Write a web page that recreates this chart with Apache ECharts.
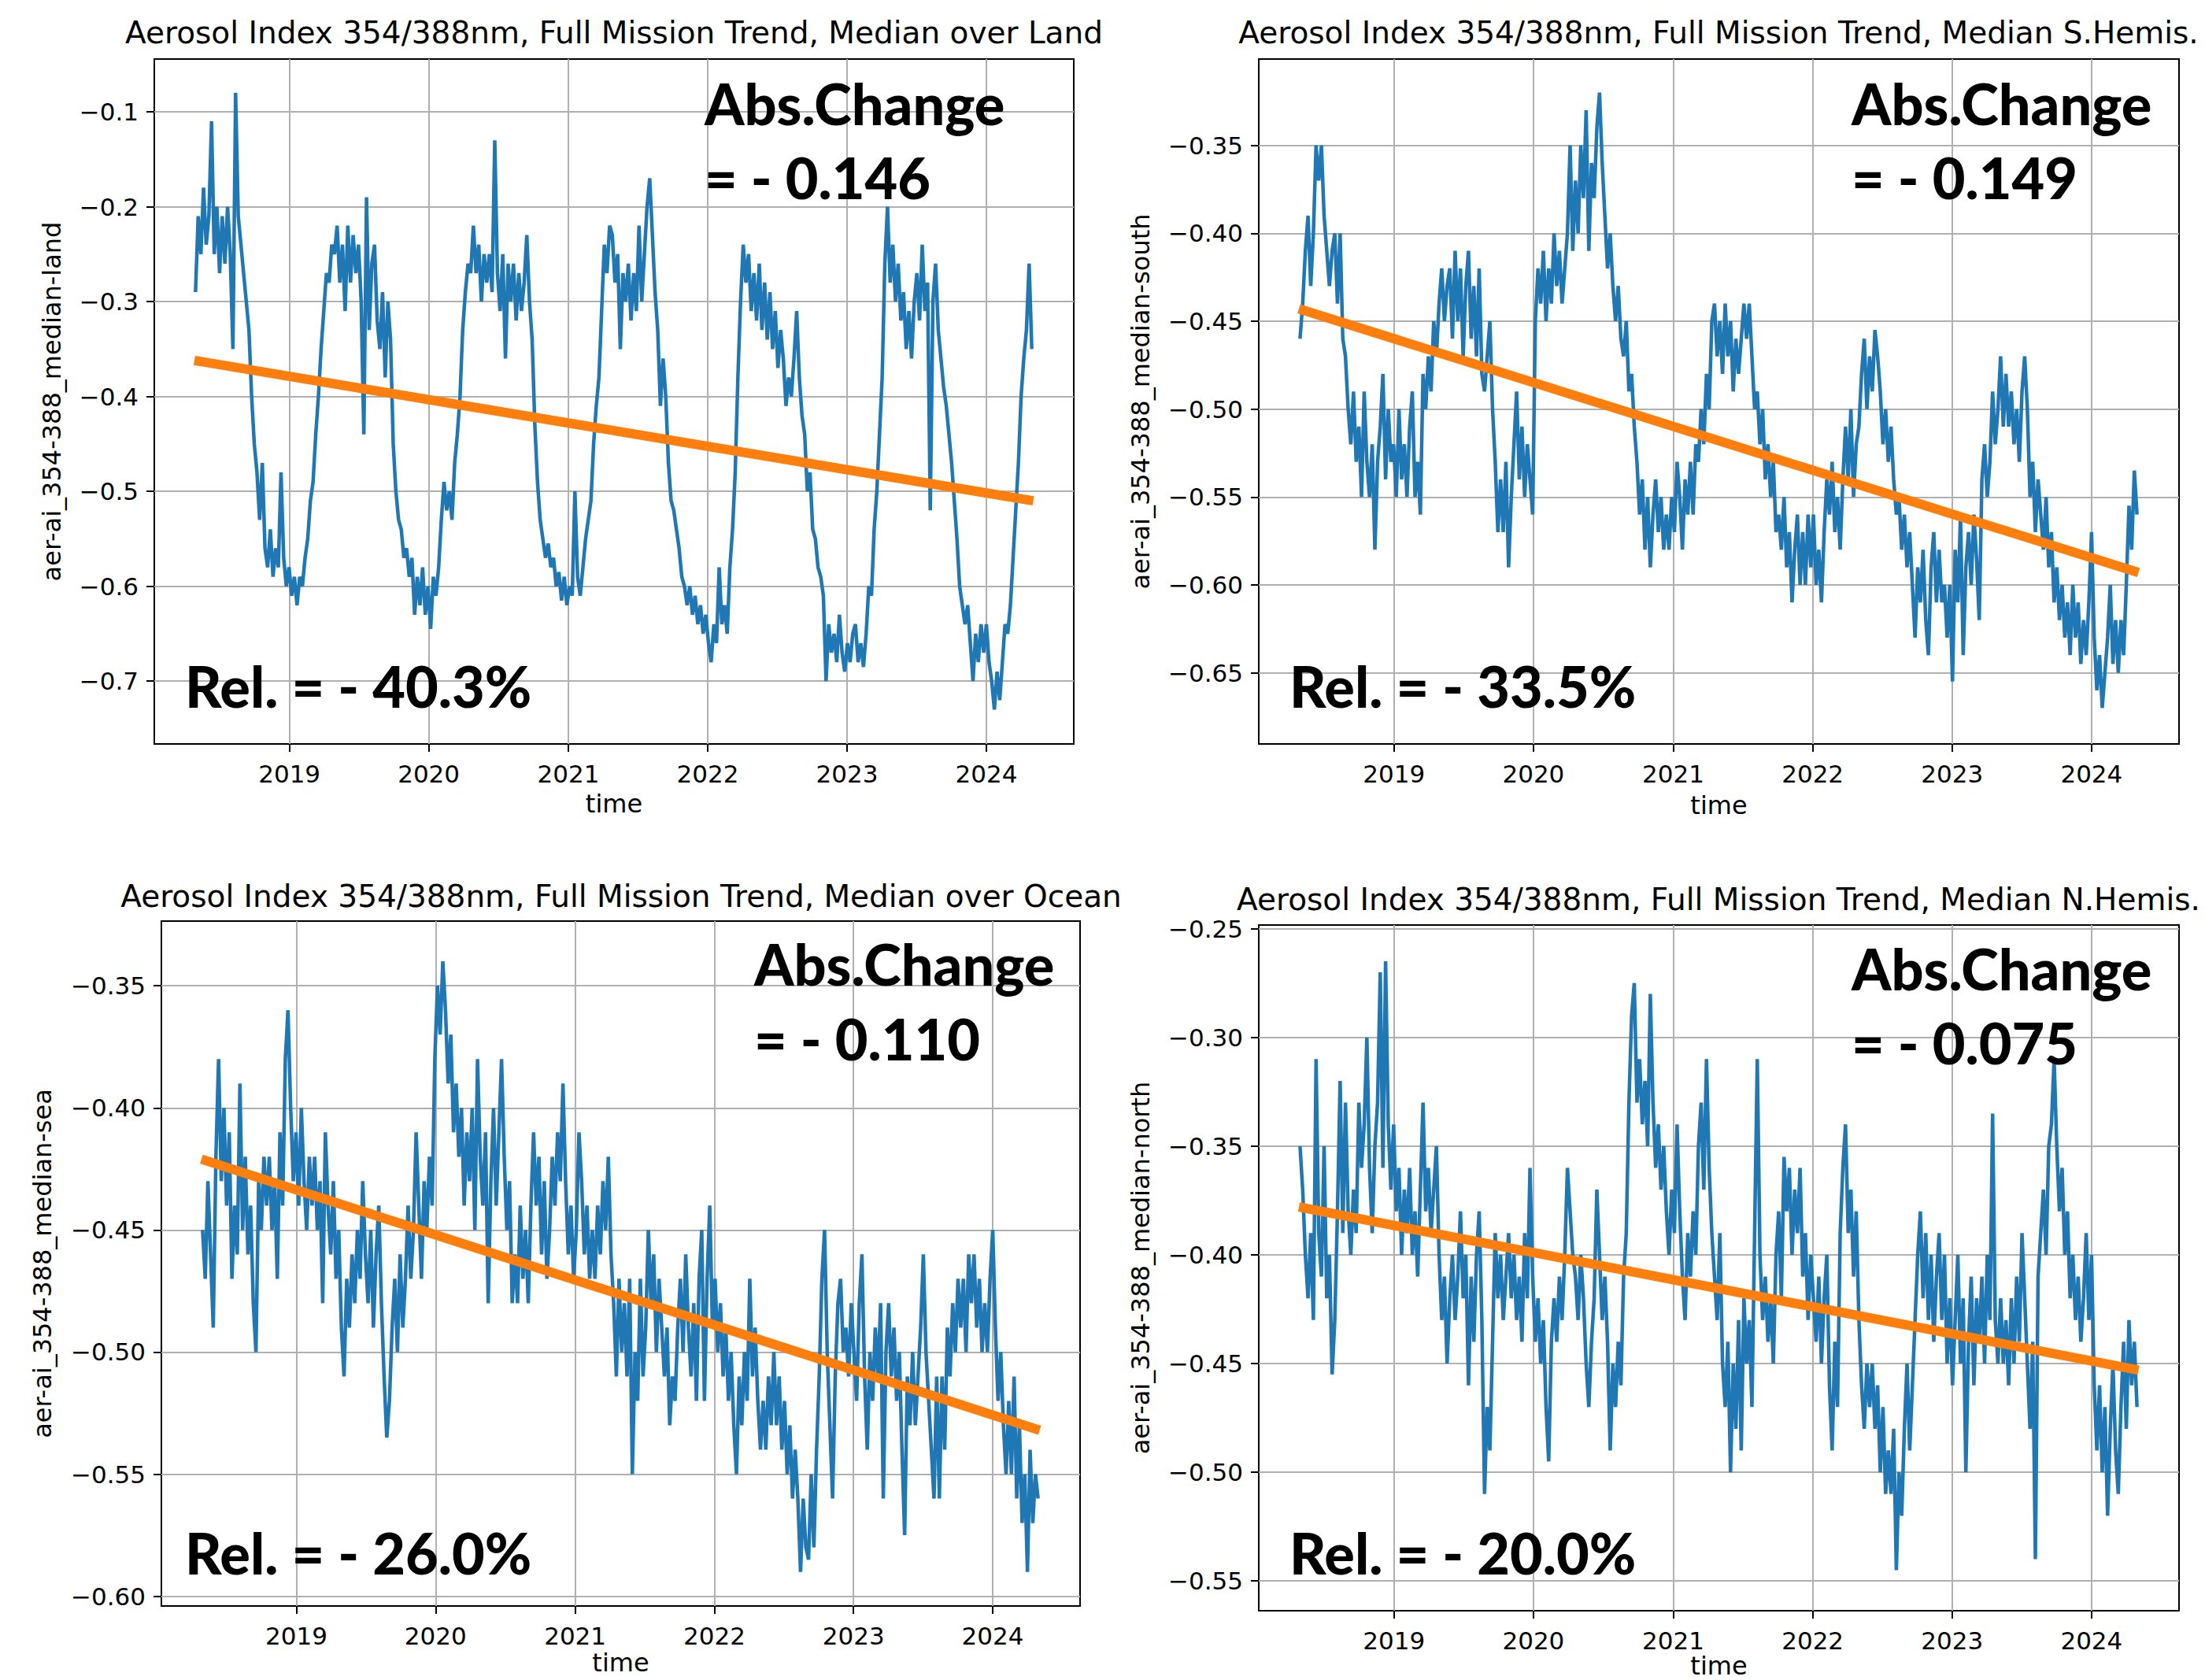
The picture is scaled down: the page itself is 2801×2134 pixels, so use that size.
<!DOCTYPE html>
<html><head><meta charset="utf-8">
<script src="https://cdn.jsdelivr.net/npm/echarts@6/dist/echarts.min.js"></script>
<style>html,body{margin:0;padding:0;background:#fff}#c{width:2801px;height:2134px}</style>
</head><body><div id="c"></div>
<script>
// ---- data (weekly samples, first sample 2018-04-30) ----
const seriesStart = '2018-04-30';
const stepDays = 7;

const landValues = [
-0.29,-0.21,-0.25,-0.18,-0.24,-0.21,-0.11,-0.25,-0.20,-0.27,-0.21,-0.26,-0.20,-0.25,-0.35,-0.08,-0.21,-0.24,-0.27,-0.30,
-0.33,-0.40,-0.45,-0.48,-0.53,-0.47,-0.56,-0.58,-0.54,-0.59,-0.56,-0.58,-0.48,-0.57,-0.60,-0.58,-0.61,-0.59,-0.62,-0.59,
-0.60,-0.57,-0.55,-0.51,-0.49,-0.44,-0.40,-0.35,-0.31,-0.27,-0.28,-0.24,
-0.25,-0.22,-0.28,-0.24,-0.31,-0.22,-0.28,-0.23,-0.27,-0.24,-0.30,-0.44,-0.19,-0.33,-0.26,-0.24,-0.32,-0.35,-0.29,-0.38,
-0.30,-0.34,-0.45,-0.50,-0.53,-0.54,-0.57,-0.56,-0.59,-0.57,-0.63,-0.59,-0.62,-0.58,-0.63,-0.60,-0.645,-0.59,-0.61,-0.58,
-0.53,-0.49,-0.52,-0.50,-0.53,-0.47,-0.44,-0.40,-0.33,-0.29,-0.26,-0.27,
-0.22,-0.27,-0.24,-0.30,-0.25,-0.28,-0.25,-0.29,-0.13,-0.27,-0.31,-0.25,-0.36,-0.26,-0.30,-0.26,-0.32,-0.27,-0.31,-0.28,
-0.23,-0.30,-0.34,-0.43,-0.49,-0.53,-0.55,-0.57,-0.555,-0.58,-0.57,-0.60,-0.585,-0.615,-0.59,-0.62,-0.60,-0.61,-0.50,-0.59,
-0.61,-0.58,-0.55,-0.53,-0.51,-0.45,-0.41,-0.38,-0.31,-0.24,-0.27,-0.22,
-0.23,-0.28,-0.25,-0.35,-0.27,-0.30,-0.26,-0.32,-0.27,-0.31,-0.22,-0.30,-0.25,-0.20,-0.17,-0.23,-0.29,-0.33,-0.41,-0.36,
-0.40,-0.47,-0.51,-0.52,-0.54,-0.56,-0.59,-0.60,-0.62,-0.60,-0.63,-0.61,-0.64,-0.62,-0.65,-0.63,-0.66,-0.68,-0.64,-0.66,
-0.58,-0.64,-0.62,-0.65,-0.58,-0.54,-0.48,-0.38,-0.30,-0.24,-0.28,-0.25,
-0.31,-0.27,-0.32,-0.26,-0.33,-0.28,-0.34,-0.29,-0.35,-0.31,-0.37,-0.33,-0.36,-0.41,-0.38,-0.40,-0.36,-0.31,-0.38,-0.42,
-0.44,-0.50,-0.48,-0.54,-0.55,-0.58,-0.59,-0.61,-0.70,-0.64,-0.67,-0.65,-0.68,-0.63,-0.67,-0.69,-0.66,-0.68,-0.65,-0.64,
-0.68,-0.66,-0.685,-0.65,-0.60,-0.61,-0.54,-0.50,-0.44,-0.38,-0.26,-0.20,
-0.28,-0.24,-0.30,-0.26,-0.32,-0.29,-0.35,-0.31,-0.36,-0.30,-0.27,-0.32,-0.24,-0.31,-0.28,-0.52,-0.30,-0.26,-0.33,-0.36,
-0.39,-0.41,-0.44,-0.47,-0.51,-0.55,-0.60,-0.62,-0.64,-0.62,-0.66,-0.70,-0.65,-0.68,-0.64,-0.67,-0.64,-0.68,-0.70,-0.73,
-0.69,-0.72,-0.68,-0.64,-0.65,-0.62,-0.57,-0.52,-0.47,-0.40,-0.36,-0.33,-0.26,-0.35
];

const southValues = [
-0.46,-0.44,-0.41,-0.39,-0.43,-0.40,-0.35,-0.37,-0.35,-0.39,-0.41,-0.43,-0.41,-0.40,-0.44,-0.40,-0.46,-0.47,-0.50,-0.52,
-0.49,-0.53,-0.51,-0.55,-0.49,-0.53,-0.55,-0.52,-0.58,-0.53,-0.51,-0.48,-0.54,-0.50,-0.53,-0.52,-0.55,-0.50,-0.54,-0.52,
-0.55,-0.51,-0.49,-0.55,-0.53,-0.56,-0.48,-0.50,-0.47,-0.49,-0.45,-0.47,
-0.44,-0.42,-0.45,-0.43,-0.42,-0.46,-0.41,-0.45,-0.42,-0.47,-0.43,-0.41,-0.46,-0.43,-0.47,-0.42,-0.48,-0.49,-0.47,-0.45,
-0.50,-0.53,-0.57,-0.54,-0.57,-0.53,-0.59,-0.55,-0.52,-0.49,-0.54,-0.51,-0.55,-0.52,-0.54,-0.56,-0.45,-0.42,-0.44,-0.41,
-0.45,-0.42,-0.44,-0.40,-0.43,-0.41,-0.44,-0.42,-0.40,-0.35,-0.41,-0.37,
-0.40,-0.35,-0.38,-0.33,-0.41,-0.36,-0.38,-0.34,-0.32,-0.36,-0.39,-0.42,-0.40,-0.43,-0.45,-0.43,-0.46,-0.47,-0.45,-0.49,
-0.48,-0.51,-0.53,-0.56,-0.54,-0.58,-0.55,-0.59,-0.56,-0.54,-0.57,-0.55,-0.58,-0.56,-0.58,-0.55,-0.57,-0.53,-0.55,-0.58,
-0.54,-0.56,-0.53,-0.56,-0.52,-0.53,-0.50,-0.52,-0.48,-0.50,-0.45,-0.44,
-0.47,-0.45,-0.48,-0.44,-0.47,-0.45,-0.49,-0.46,-0.48,-0.46,-0.44,-0.46,-0.44,-0.47,-0.50,-0.49,-0.52,-0.50,-0.54,-0.52,
-0.55,-0.53,-0.57,-0.56,-0.58,-0.55,-0.59,-0.57,-0.61,-0.58,-0.56,-0.60,-0.57,-0.60,-0.56,-0.59,-0.56,-0.60,-0.58,-0.61,
-0.57,-0.54,-0.56,-0.53,-0.57,-0.55,-0.58,-0.54,-0.51,-0.54,-0.50,-0.55,
-0.52,-0.51,-0.48,-0.46,-0.50,-0.47,-0.49,-0.455,-0.47,-0.49,-0.52,-0.50,-0.53,-0.51,-0.54,-0.56,-0.55,-0.58,-0.56,-0.59,
-0.57,-0.60,-0.63,-0.59,-0.61,-0.58,-0.62,-0.64,-0.59,-0.57,-0.61,-0.58,-0.61,-0.60,-0.63,-0.60,-0.655,-0.58,-0.61,-0.56,
-0.64,-0.59,-0.57,-0.60,-0.56,-0.585,-0.62,-0.54,-0.52,-0.55,-0.53,-0.49,
-0.52,-0.50,-0.47,-0.51,-0.48,-0.51,-0.49,-0.52,-0.50,-0.53,-0.49,-0.47,-0.50,-0.55,-0.53,-0.57,-0.54,-0.56,-0.58,-0.55,
-0.59,-0.57,-0.61,-0.59,-0.62,-0.60,-0.63,-0.61,-0.64,-0.60,-0.63,-0.61,-0.645,-0.62,-0.64,-0.61,-0.57,-0.63,-0.66,-0.64,
-0.67,-0.65,-0.63,-0.60,-0.645,-0.62,-0.65,-0.62,-0.64,-0.60,-0.555,-0.58,-0.535,-0.56
];

const seaValues = [
-0.45,-0.47,-0.43,-0.46,-0.49,-0.42,-0.38,-0.43,-0.40,-0.44,-0.41,-0.47,-0.44,-0.46,-0.39,-0.45,-0.42,-0.46,-0.44,-0.48,
-0.50,-0.43,-0.45,-0.42,-0.44,-0.42,-0.45,-0.43,-0.47,-0.41,-0.44,-0.38,-0.36,-0.40,-0.43,-0.41,-0.44,-0.40,-0.43,-0.45,
-0.42,-0.44,-0.42,-0.45,-0.43,-0.48,-0.41,-0.44,-0.46,-0.43,-0.47,-0.45,
-0.49,-0.51,-0.47,-0.49,-0.46,-0.48,-0.45,-0.47,-0.43,-0.46,-0.48,-0.45,-0.49,-0.46,-0.44,-0.48,-0.51,-0.535,-0.52,-0.49,
-0.47,-0.50,-0.46,-0.49,-0.47,-0.44,-0.47,-0.45,-0.41,-0.44,-0.47,-0.43,-0.45,-0.42,-0.44,-0.38,-0.35,-0.37,-0.34,-0.36,
-0.39,-0.37,-0.41,-0.39,-0.42,-0.40,-0.44,-0.41,-0.43,-0.40,-0.45,-0.38,
-0.42,-0.44,-0.41,-0.48,-0.43,-0.40,-0.44,-0.41,-0.38,-0.42,-0.45,-0.43,-0.48,-0.46,-0.48,-0.44,-0.47,-0.45,-0.48,-0.44,
-0.41,-0.44,-0.42,-0.46,-0.43,-0.47,-0.45,-0.42,-0.44,-0.41,-0.43,-0.39,-0.43,-0.46,-0.44,-0.47,-0.45,-0.41,-0.43,-0.46,
-0.44,-0.47,-0.45,-0.47,-0.44,-0.46,-0.43,-0.45,-0.42,-0.46,-0.48,-0.51,
-0.47,-0.50,-0.48,-0.51,-0.47,-0.55,-0.50,-0.52,-0.47,-0.51,-0.49,-0.45,-0.48,-0.46,-0.50,-0.47,-0.49,-0.51,-0.49,-0.53,
-0.51,-0.52,-0.49,-0.47,-0.50,-0.46,-0.49,-0.51,-0.48,-0.52,-0.47,-0.45,-0.52,-0.47,-0.44,-0.49,-0.47,-0.50,-0.48,-0.51,
-0.49,-0.52,-0.50,-0.53,-0.55,-0.51,-0.53,-0.50,-0.52,-0.47,-0.51,-0.49,
-0.52,-0.54,-0.52,-0.54,-0.51,-0.53,-0.50,-0.53,-0.51,-0.54,-0.52,-0.55,-0.53,-0.56,-0.54,-0.56,-0.59,-0.56,-0.58,-0.585,
-0.55,-0.58,-0.54,-0.51,-0.47,-0.45,-0.50,-0.53,-0.56,-0.51,-0.48,-0.47,-0.50,-0.49,-0.51,-0.48,-0.50,-0.52,-0.48,-0.46,
-0.51,-0.54,-0.50,-0.52,-0.49,-0.51,-0.48,-0.56,-0.50,-0.48,-0.51,-0.49,
-0.52,-0.50,-0.54,-0.575,-0.51,-0.53,-0.50,-0.53,-0.51,-0.49,-0.46,-0.50,-0.52,-0.54,-0.56,-0.51,-0.56,-0.51,-0.54,-0.49,
-0.51,-0.48,-0.50,-0.47,-0.49,-0.47,-0.50,-0.46,-0.48,-0.46,-0.49,-0.47,-0.50,-0.48,-0.50,-0.47,-0.45,-0.49,-0.52,-0.50,
-0.53,-0.55,-0.52,-0.55,-0.51,-0.56,-0.53,-0.57,-0.55,-0.59,-0.54,-0.57,-0.55,-0.56
];

const northValues = [
-0.35,-0.37,-0.40,-0.42,-0.39,-0.43,-0.31,-0.39,-0.41,-0.35,-0.42,-0.40,-0.455,-0.43,-0.38,-0.32,-0.39,-0.33,-0.38,-0.40,
-0.37,-0.39,-0.33,-0.36,-0.34,-0.30,-0.36,-0.39,-0.35,-0.33,-0.27,-0.36,-0.265,-0.34,-0.37,-0.34,-0.38,-0.36,-0.40,-0.37,
-0.39,-0.36,-0.40,-0.38,-0.41,-0.37,-0.33,-0.38,-0.36,-0.39,-0.37,-0.35,
-0.40,-0.43,-0.41,-0.45,-0.42,-0.40,-0.43,-0.41,-0.38,-0.42,-0.40,-0.46,-0.41,-0.44,-0.40,-0.38,-0.43,-0.51,-0.47,-0.49,
-0.44,-0.39,-0.42,-0.40,-0.43,-0.41,-0.39,-0.42,-0.40,-0.43,-0.41,-0.44,-0.39,-0.42,-0.36,-0.41,-0.44,-0.42,-0.45,-0.43,
-0.47,-0.495,-0.44,-0.42,-0.44,-0.41,-0.43,-0.40,-0.36,-0.38,-0.40,-0.41,
-0.43,-0.40,-0.42,-0.45,-0.47,-0.44,-0.42,-0.37,-0.40,-0.43,-0.41,-0.44,-0.49,-0.45,-0.47,-0.44,-0.46,-0.41,-0.39,-0.33,
-0.29,-0.275,-0.33,-0.31,-0.34,-0.32,-0.35,-0.28,-0.33,-0.36,-0.34,-0.37,-0.35,-0.38,-0.40,-0.37,-0.39,-0.34,-0.38,-0.41,
-0.43,-0.39,-0.41,-0.38,-0.40,-0.35,-0.33,-0.37,-0.31,-0.36,-0.39,-0.41,
-0.43,-0.39,-0.45,-0.47,-0.44,-0.50,-0.45,-0.48,-0.43,-0.49,-0.42,-0.45,-0.43,-0.47,-0.39,-0.31,-0.40,-0.43,-0.41,-0.44,
-0.42,-0.45,-0.40,-0.38,-0.42,-0.355,-0.38,-0.36,-0.40,-0.37,-0.39,-0.36,-0.41,-0.39,-0.43,-0.40,-0.42,-0.44,-0.41,-0.45,
-0.42,-0.40,-0.46,-0.49,-0.44,-0.47,-0.39,-0.36,-0.34,-0.39,-0.37,-0.41,
-0.38,-0.43,-0.46,-0.48,-0.45,-0.47,-0.45,-0.48,-0.46,-0.50,-0.47,-0.51,-0.49,-0.51,-0.48,-0.545,-0.50,-0.52,-0.48,-0.45,
-0.49,-0.46,-0.43,-0.40,-0.38,-0.42,-0.39,-0.43,-0.40,-0.44,-0.41,-0.39,-0.43,-0.40,-0.45,-0.42,-0.46,-0.43,-0.40,-0.45,
-0.42,-0.50,-0.44,-0.41,-0.46,-0.42,-0.44,-0.41,-0.45,-0.40,-0.43,-0.335,
-0.43,-0.45,-0.42,-0.45,-0.43,-0.46,-0.42,-0.45,-0.41,-0.44,-0.39,-0.42,-0.45,-0.48,-0.44,-0.54,-0.41,-0.39,-0.37,-0.40,
-0.35,-0.34,-0.31,-0.35,-0.38,-0.36,-0.40,-0.38,-0.42,-0.40,-0.43,-0.41,-0.44,-0.42,-0.39,-0.43,-0.40,-0.46,-0.49,-0.46,
-0.50,-0.47,-0.52,-0.48,-0.45,-0.49,-0.51,-0.47,-0.44,-0.48,-0.43,-0.46,-0.44,-0.47
];

// linear trend lines (start value, end value) over the mission period
const trendDates = ['2018-04-27', '2024-05-03'];
const landTrend  = [-0.362, -0.510];
const southTrend = [-0.443, -0.593];
const seaTrend   = [-0.421, -0.532];
const northTrend = [-0.378, -0.453];

// tick labels
const yearTicks  = [2019, 2020, 2021, 2022, 2023, 2024];
const landTicks  = [-0.7, -0.6, -0.5, -0.4, -0.3, -0.2, -0.1];
const southTicks = [-0.65, -0.60, -0.55, -0.50, -0.45, -0.40, -0.35];
const seaTicks   = [-0.60, -0.55, -0.50, -0.45, -0.40, -0.35];
const northTicks = [-0.55, -0.50, -0.45, -0.40, -0.35, -0.30, -0.25];

// texts
const titles = [
  'Aerosol Index 354/388nm, Full Mission Trend, Median over Land',
  'Aerosol Index 354/388nm, Full Mission Trend, Median S.Hemis.',
  'Aerosol Index 354/388nm, Full Mission Trend, Median over Ocean',
  'Aerosol Index 354/388nm, Full Mission Trend, Median N.Hemis.'
];
const yNames = ['aer-ai_354-388_median-land','aer-ai_354-388_median-south','aer-ai_354-388_median-sea','aer-ai_354-388_median-north'];
const absChange = ['= - 0.146', '= - 0.149', '= - 0.110', '= - 0.075'];
const relChange = ['Rel. = - 40.3%', 'Rel. = - 33.5%', 'Rel. = - 26.0%', 'Rel. = - 20.0%'];

// ---- build ----
const DAY = 86400000;
const t0 = Date.parse(seriesStart + 'T00:00:00Z');
const toPairs = vals => vals.map((v, i) => [t0 + i * stepDays * DAY, v]);
const yearMs = yearTicks.map(y => Date.UTC(y, 0, 1));
const xMin = Date.UTC(2018, 0, 12), xMax = Date.UTC(2024, 7, 17);
const trendX = trendDates.map(d => Date.parse(d + 'T00:00:00Z'));

const layout = [
  {grid:{left:196, top:75, width:1168, height:870}, yMin:-0.7662, yMax:-0.0444, dec:1, yGap:114, xGap:60,
   titleX:780, titleY:41, absX:895, absY:[131,225], relX:235, relY:871},
  {grid:{left:1599, top:75, width:1169, height:870}, yMin:-0.6905, yMax:-0.3009, dec:2, yGap:134, xGap:62,
   titleX:2183, titleY:41, absX:2352, absY:[131,225], relX:1638, relY:871},
  {grid:{left:205, top:1170, width:1167, height:870}, yMin:-0.604, yMax:-0.3235, dec:2, yGap:135, xGap:56,
   titleX:789, titleY:1138, absX:958, absY:[1224,1319], relX:235, relY:1972},
  {grid:{left:1599, top:1175, width:1169, height:871}, yMin:-0.5637, yMax:-0.2483, dec:2, yGap:134, xGap:52,
   titleX:2183, titleY:1142, absX:2352, absY:[1230,1324], relX:1638, relY:1972}
];
const valueSets = [landValues, southValues, seaValues, northValues];
const trendSets = [landTrend, southTrend, seaTrend, northTrend];
const tickSets = [landTicks, southTicks, seaTicks, northTicks];

const fam = '"DejaVu Sans"';
const boldFont = '900 72px Lato';
const grids = [], xAxes = [], yAxes = [], series = [], graphic = [];
layout.forEach((L, i) => {
  grids.push(Object.assign({show:true, borderColor:'#000', borderWidth:2, backgroundColor:'#fff', containLabel:false}, L.grid));
  xAxes.push({
    type:'value', gridIndex:i, min:xMin, max:xMax,
    axisLine:{show:false},
    axisTick:{show:true, customValues:yearMs, length:10, lineStyle:{color:'#000', width:2}},
    axisLabel:{customValues:yearMs, formatter:v => String(new Date(v).getUTCFullYear()), fontSize:31, color:'#000', fontFamily:fam, margin:22},
    splitLine:{show:true, lineStyle:{color:'#b0b0b0', width:2}},
    name:'time', nameLocation:'middle', nameGap:L.xGap, nameTextStyle:{fontSize:32, color:'#000', fontFamily:fam}
  });
  yAxes.push({
    type:'value', gridIndex:i, min:L.yMin, max:L.yMax,
    axisLine:{show:false},
    axisTick:{show:true, customValues:tickSets[i], length:10, lineStyle:{color:'#000', width:2}},
    axisLabel:{customValues:tickSets[i], formatter:v => (v < 0 ? '\u2212' : '') + Math.abs(v).toFixed(L.dec), fontSize:31, color:'#000', fontFamily:fam, margin:20},
    splitLine:{show:true, lineStyle:{color:'#b0b0b0', width:2}},
    name:yNames[i], nameLocation:'middle', nameGap:L.yGap, nameTextStyle:{fontSize:32, color:'#000', fontFamily:fam}
  });
  series.push({
    type:'line', xAxisIndex:i, yAxisIndex:i, data:toPairs(valueSets[i]), showSymbol:false, symbol:'none',
    lineStyle:{color:'#1f77b4', width:4.5}, z:2, silent:true
  });
  series.push({
    type:'line', xAxisIndex:i, yAxisIndex:i, data:trendX.map((t, k) => [t, trendSets[i][k]]), showSymbol:false, symbol:'none',
    lineStyle:{color:'#ff7f0e', width:12, cap:'butt'}, z:3, silent:true
  });
  graphic.push({type:'text', z:10, style:{text:titles[i], x:L.titleX, y:L.titleY, fill:'#000', font:'39px ' + fam, align:'center', verticalAlign:'middle'}});
  graphic.push({type:'text', z:10, style:{text:'Abs.Change', x:L.absX, y:L.absY[0], fill:'#000', font:boldFont, align:'left', verticalAlign:'middle'}});
  graphic.push({type:'text', z:10, style:{text:absChange[i], x:L.absX, y:L.absY[1], fill:'#000', font:boldFont, align:'left', verticalAlign:'middle'}});
  graphic.push({type:'text', z:10, style:{text:relChange[i], x:L.relX, y:L.relY, fill:'#000', font:boldFont, align:'left', verticalAlign:'middle'}});
});

const chart = echarts.init(document.getElementById('c'), null, {renderer:'svg', width:2801, height:2134});
chart.setOption({
  backgroundColor:'#fff', animation:false,
  grid:grids, xAxis:xAxes, yAxis:yAxes, series:series, graphic:graphic
});
</script></body></html>
